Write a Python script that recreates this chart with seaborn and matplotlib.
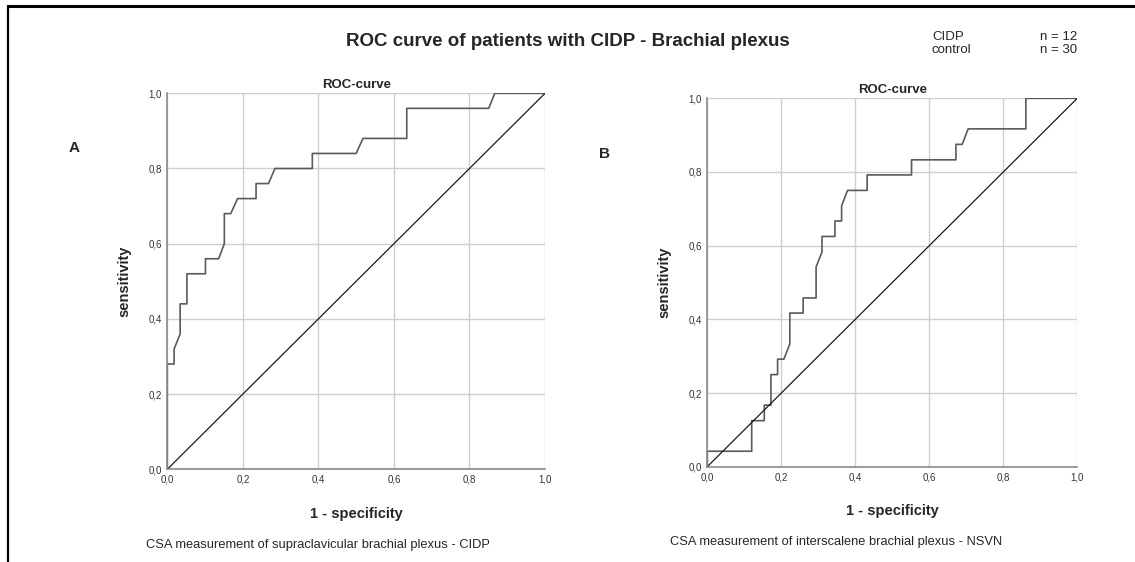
import numpy as np
import pandas as pd
import seaborn as sns
import matplotlib.pyplot as plt
from matplotlib.ticker import FuncFormatter
from matplotlib.lines import Line2D

# ROC A - supraclavicular
fpr_a = [0, 0, 0.018, 0.018, 0.034, 0.034, 0.052, 0.052, 0.101, 0.101, 0.136, 0.151,
         0.151, 0.168, 0.186, 0.235, 0.235, 0.268, 0.285, 0.384, 0.384, 0.5, 0.518,
         0.634, 0.634, 0.851, 0.867, 1.0]
tpr_a = [0, 0.28, 0.28, 0.32, 0.36, 0.44, 0.44, 0.52, 0.52, 0.56, 0.56, 0.60,
         0.68, 0.68, 0.72, 0.72, 0.76, 0.76, 0.80, 0.80, 0.84, 0.84, 0.88,
         0.88, 0.96, 0.96, 1.0, 1.0]

# ROC B - interscalene
fpr_b = [0, 0, 0.12, 0.12, 0.154, 0.154, 0.172, 0.172, 0.19, 0.19, 0.207, 0.223,
         0.223, 0.259, 0.259, 0.294, 0.294, 0.31, 0.31, 0.345, 0.345, 0.363, 0.363,
         0.379, 0.432, 0.432, 0.552, 0.552, 0.672, 0.672, 0.689, 0.705, 0.861, 0.861, 1.0]
tpr_b = [0, 0.042, 0.042, 0.125, 0.125, 0.167, 0.167, 0.25, 0.25, 0.292, 0.292, 0.333,
         0.417, 0.417, 0.458, 0.458, 0.542, 0.583, 0.625, 0.625, 0.667, 0.667, 0.708,
         0.75, 0.75, 0.792, 0.792, 0.833, 0.833, 0.875, 0.875, 0.917, 0.917, 1.0, 1.0]

diag = [0, 1]
ticks = [0, 0.2, 0.4, 0.6, 0.8, 1.0]

sns.set_style("whitegrid")
plt.rcParams['font.family'] = ['Liberation Sans', 'DejaVu Sans']

fig = plt.figure(figsize=(11.35, 5.62), dpi=100)
W, H = 1135, 562

def px_axes(x0, x1, ytop, ybot):
    return fig.add_axes([x0 / W, 1 - ybot / H, (x1 - x0) / W, (ybot - ytop) / H])

ax_a = px_axes(167.3, 545, 93.3, 469.3)
ax_b = px_axes(707.3, 1077.3, 98.3, 466.7)

comma = FuncFormatter(lambda v, p: f"{v:.1f}".replace('.', ','))

def roc_panel(ax, fpr, tpr):
    df = pd.DataFrame({'fpr': fpr, 'tpr': tpr})
    sns.lineplot(data=df, x='fpr', y='tpr', sort=False, estimator=None,
                 color='#5a5a5a', lw=1.2, ax=ax)
    sns.lineplot(x=diag, y=diag, color='#1a1a1a', lw=0.9, ax=ax)
    ax.set_xlim(0, 1)
    ax.set_ylim(0, 1)
    ax.set_xticks(ticks)
    ax.set_yticks(ticks)
    ax.xaxis.set_major_formatter(comma)
    ax.yaxis.set_major_formatter(comma)
    ax.grid(True, color='#cfcfcf', lw=1)
    for s in ['top', 'right']:
        ax.spines[s].set_visible(False)
    for s in ['left', 'bottom']:
        ax.spines[s].set_color('#8a8a8a')
        ax.spines[s].set_linewidth(1.2)
    ax.tick_params(length=0, labelsize=7, labelcolor='#333333', pad=4)
    ax.set_xlabel('1 - specificity', fontsize=10.5, fontweight='bold', labelpad=16)
    ax.set_ylabel('sensitivity', fontsize=10.5, fontweight='bold', labelpad=12)
    ax.set_title('ROC-curve', fontsize=9.5, fontweight='bold', pad=4)

roc_panel(ax_a, fpr_a, tpr_a)
roc_panel(ax_b, fpr_b, tpr_b)

fig.text(568 / W, 1 - 41 / H, 'ROC curve of patients with CIDP - Brachial plexus',
         ha='center', va='center', fontsize=13.5, fontweight='bold')
fig.text(932 / W, 1 - 37 / H, 'CIDP', fontsize=9.5, va='center')
fig.text(932 / W, 1 - 50 / H, 'control', fontsize=9.5, va='center')
fig.text(1040 / W, 1 - 37 / H, 'n = 12', fontsize=9.5, va='center')
fig.text(1040 / W, 1 - 50 / H, 'n = 30', fontsize=9.5, va='center')
fig.text(74 / W, 1 - 148 / H, 'A', fontsize=11, fontweight='bold', ha='center', va='center')
fig.text(605 / W, 1 - 154 / H, 'B', fontsize=11, fontweight='bold', ha='center', va='center')
fig.text(318 / W, 1 - 545 / H, 'CSA measurement of supraclavicular brachial plexus - CIDP',
         fontsize=9.3, ha='center', va='center')
fig.text(836 / W, 1 - 542 / H, 'CSA measurement of interscalene brachial plexus - NSVN',
         fontsize=9.3, ha='center', va='center')

# page frame: top and left border
fig.add_artist(Line2D([8 / W, 1], [1 - 5.5 / H, 1 - 5.5 / H], color='black', lw=2.2,
                      transform=fig.transFigure))
fig.add_artist(Line2D([8 / W, 8 / W], [0, 1 - 5.5 / H], color='black', lw=1.6,
                      transform=fig.transFigure))

fig.savefig('out.png', dpi=100, facecolor='white')
